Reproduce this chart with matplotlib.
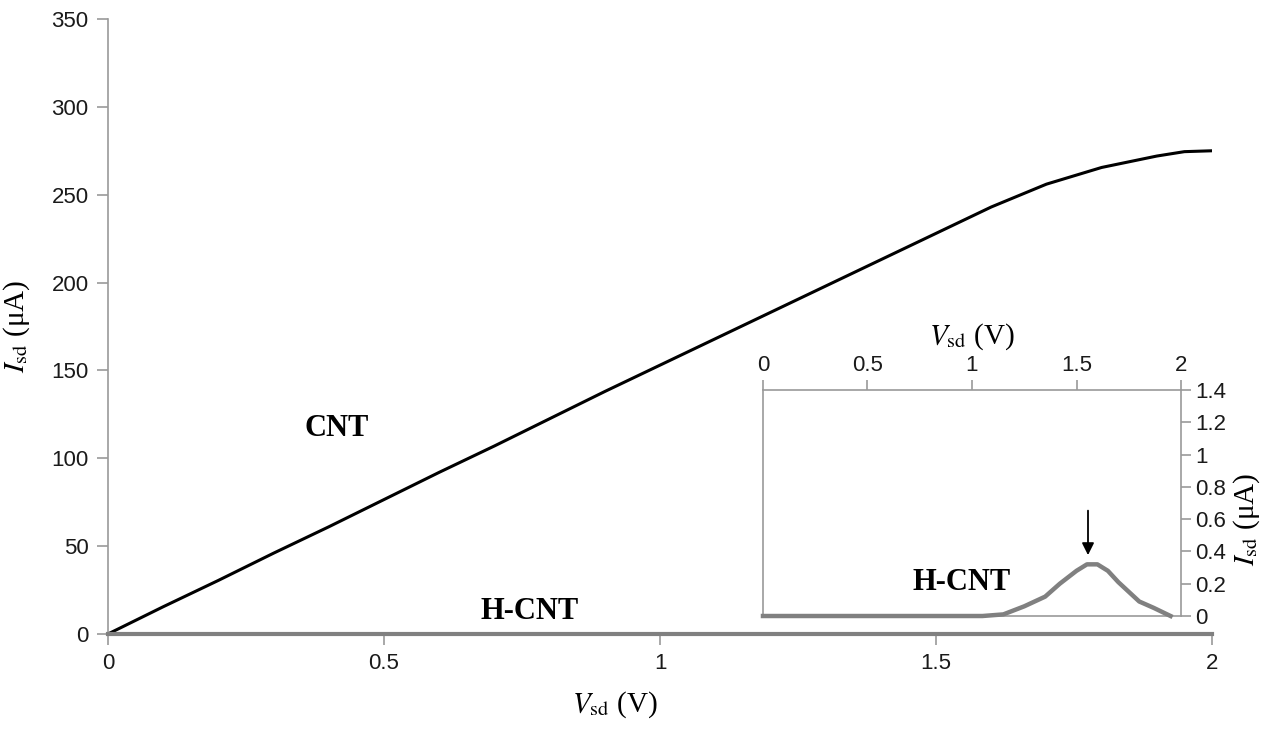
import matplotlib
matplotlib.use("Agg")
import matplotlib.pyplot as plt

plt.rcParams['mathtext.fontset'] = 'stix'

# CNT curve (main panel)
v_cnt = [0, 0.1, 0.2, 0.3, 0.4, 0.5, 0.6, 0.7, 0.8, 0.9, 1.0, 1.1, 1.2, 1.3,
         1.4, 1.5, 1.6, 1.7, 1.8, 1.9, 1.95, 2.0]
i_cnt = [0, 15.5, 30.5, 46, 61, 76.5, 92, 107, 122.5, 138, 153, 168, 183, 198,
         213, 228, 243, 256, 265.5, 272, 274.5, 275]

# H-CNT curve (main panel near zero, shown in inset)
v_hcnt = [0, 1.05, 1.15, 1.25, 1.35, 1.42, 1.50, 1.55, 1.60, 1.65, 1.70,
          1.75, 1.80, 1.87, 1.95]
i_hcnt = [0, 0, 0.01, 0.06, 0.12, 0.20, 0.28, 0.32, 0.32, 0.28, 0.21,
          0.15, 0.09, 0.05, 0]

main_xticks = [0, 0.5, 1, 1.5, 2]
main_xlabels = ['0', '0.5', '1', '1.5', '2']
main_yticks = [0, 50, 100, 150, 200, 250, 300, 350]
inset_yticks = [0, 0.2, 0.4, 0.6, 0.8, 1.0, 1.2, 1.4]
inset_ylabels = ['0', '0.2', '0.4', '0.6', '0.8', '1', '1.2', '1.4']

spine_col = '#9a9a9a'
tick_font = 'Liberation Sans'
serif = 'Liberation Serif'

fig = plt.figure(figsize=(12.71, 7.42), dpi=100)

# main axes
ax = fig.add_axes([0.085, 0.1456, 0.8686, 0.8288])
ax.plot(v_cnt, i_cnt, color='black', lw=2.2, zorder=3)
ax.plot(v_hcnt + [2.0], [0] * (len(v_hcnt) + 1), color='#808080', lw=3, zorder=3,
        clip_on=False)
ax.set_xlim(0, 2)
ax.set_ylim(0, 350)
for s in ['top', 'right']:
    ax.spines[s].set_visible(False)
for s in ['left', 'bottom']:
    ax.spines[s].set_color(spine_col)
    ax.spines[s].set_linewidth(1.2)
ax.set_xticks(main_xticks)
ax.set_xticklabels(main_xlabels)
ax.set_yticks(main_yticks)
ax.tick_params(direction='out', length=8, width=1.2, color=spine_col,
               labelsize=16, labelcolor='#1a1a1a', pad=6)
for lab in ax.get_xticklabels() + ax.get_yticklabels():
    lab.set_family(tick_font)
ax.set_xlabel(r'$V_{\rm sd}$ (V)', fontsize=21, family=serif, labelpad=10)
ax.xaxis.set_label_coords(0.459, -0.09)
ax.set_ylabel(r'$I_{\rm sd}$ (μA)', fontsize=21, family=serif, labelpad=14)

ax.text(0.415, 117, 'CNT', fontsize=22, fontweight='bold', family=serif,
        ha='center', va='center')
ax.text(0.763, 13, 'H-CNT', fontsize=22, fontweight='bold', family=serif,
        ha='center', va='center')

# inset axes
ins = fig.add_axes([0.6003, 0.1698, 0.3289, 0.3046])
ins.plot(v_hcnt, i_hcnt, color='#808080', lw=3.2, zorder=3, clip_on=False)
ins.set_xlim(0, 2)
ins.set_ylim(0, 1.4)
for s in ['top', 'right', 'left', 'bottom']:
    ins.spines[s].set_color(spine_col)
    ins.spines[s].set_linewidth(1.2)
ins.xaxis.tick_top()
ins.xaxis.set_label_position('top')
ins.yaxis.tick_right()
ins.set_xticks(main_xticks)
ins.set_xticklabels(main_xlabels)
ins.set_yticks(inset_yticks)
ins.set_yticklabels(inset_ylabels)
ins.tick_params(direction='out', length=7, width=1.2, color=spine_col,
                labelsize=16, labelcolor='#1a1a1a', pad=3)
for lab in ins.get_xticklabels() + ins.get_yticklabels():
    lab.set_family(tick_font)
ins.set_xlabel(r'$V_{\rm sd}$ (V)', fontsize=21, family=serif, labelpad=8)
ins.text(1.158, 0.43, r'$I_{\rm sd}$ (μA)', fontsize=21, family=serif,
         rotation=90, ha='center', va='center', transform=ins.transAxes)
ins.text(0.95, 0.21, 'H-CNT', fontsize=22, fontweight='bold', family=serif,
         ha='center', va='center')
ins.annotate('', xy=(1.555, 0.36), xytext=(1.555, 0.67),
             arrowprops=dict(arrowstyle='-|>', color='black', lw=1.3,
                             mutation_scale=18))

fig.savefig('out.png', dpi=100)
